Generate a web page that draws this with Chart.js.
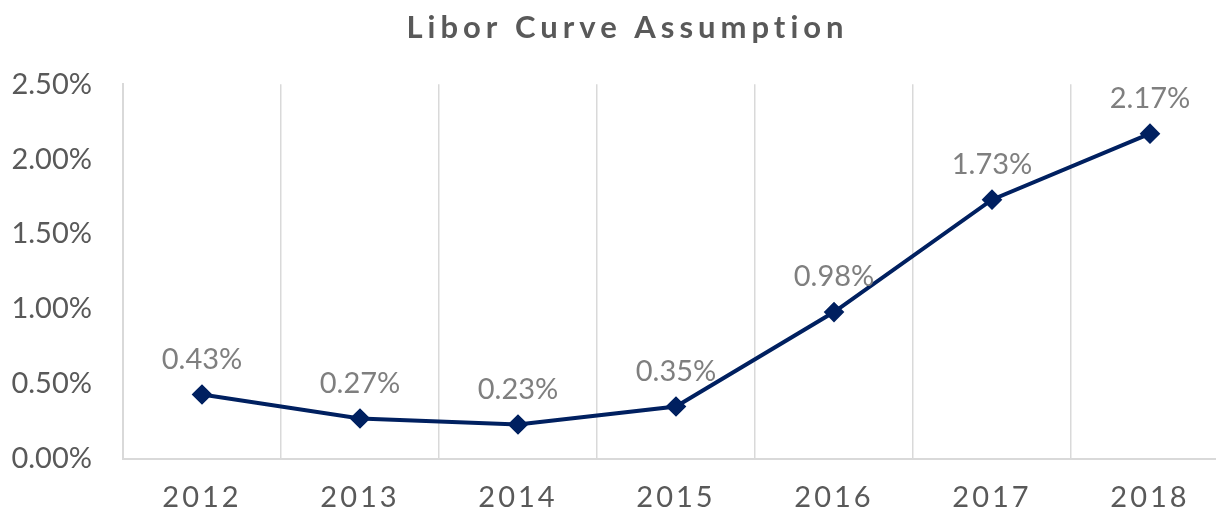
<html>
<head>
<script src="https://cdn.jsdelivr.net/npm/chart.js@4"></script>
<style>
body{margin:0;overflow:hidden;background:#fff;}
#wrap{width:1254px;height:512px;}
</style>
</head>
<body>
<div id="wrap"><canvas id="libor" width="1254" height="512"></canvas></div>
<script>
// data
var years = ['2012','2013','2014','2015','2016','2017','2018'];
var libor = [0.43, 0.27, 0.23, 0.35, 0.98, 1.73, 2.17];
var yTicks = [0, 0.5, 1.0, 1.5, 2.0, 2.5];

var FONT = 'Lato, "Open Sans", sans-serif';

// value labels above the markers
var pointLabels = {
  id: 'pointLabels',
  afterDatasetsDraw: function(chart){
    var ctx = chart.ctx;
    var meta = chart.getDatasetMeta(0);
    ctx.save();
    ctx.font = '29px ' + FONT;
    ctx.fillStyle = '#7f7f7f';
    ctx.textAlign = 'center';
    ctx.textBaseline = 'middle';
    meta.data.forEach(function(pt, i){
      ctx.fillText(libor[i].toFixed(2) + '%', pt.x, pt.y - 35);
    });
    ctx.restore();
  }
};

// letter spacing for title and year labels
var spacing = {
  id: 'spacing',
  afterLayout: function(chart){
    var xs = chart.scales.x;
    if (!xs._patched) {
      var orig = xs.drawLabels;
      xs.drawLabels = function(a){
        chart.ctx.letterSpacing = '3px';
        orig.call(this, a);
        chart.ctx.letterSpacing = '0px';
      };
      xs._patched = true;
    }
    var tb = chart.titleBlock;
    if (tb && !tb._patched) {
      var od = tb.draw;
      tb.draw = function(){
        var c = chart.ctx;
        c.save();
        c.translate(13, 0); // title sits centred on the full picture, not the padded box
        c.letterSpacing = '5px';
        od.call(this);
        c.letterSpacing = '0px';
        c.restore();
      };
      tb._patched = true;
    }
  }
};

var ctx = document.getElementById('libor').getContext('2d');
var chart = new Chart(ctx, {
  type: 'line',
  data: {
    labels: years,
    datasets: [{
      label: 'Libor',
      data: libor,
      borderColor: '#002060',
      backgroundColor: '#002060',
      borderWidth: 4,
      pointStyle: 'rectRot',
      pointRadius: 7.5,
      pointHoverRadius: 7.5,
      tension: 0
    }]
  },
  options: {
    responsive: false,
    animation: false,
    layout: {padding: {left: 0, right: 25, top: 0, bottom: 0}},
    plugins: {
      legend: {display: false},
      tooltip: {enabled: false},
      title: {
        display: true,
        text: 'Libor Curve Assumption',
        color: '#595959',
        font: {family: FONT, size: 31, weight: 'bold'},
        padding: {top: 9, bottom: 38}
      }
    },
    scales: {
      x: {
        offset: true,
        afterFit: function(s){ s.height = 53; },
        grid: {display: true, color: '#d9d9d9', lineWidth: 1.5, offset: true, drawTicks: false},
        border: {display: true, color: '#d9d9d9', width: 2},
        ticks: {color: '#595959', font: {family: FONT, size: 29}, padding: 21}
      },
      y: {
        min: 0,
        max: 2.5,
        afterBuildTicks: function(s){ s.ticks = yTicks.map(function(v){ return {value: v}; }); },
        afterFit: function(s){ s.width = 123; },
        grid: {display: false, drawTicks: false},
        border: {display: true, color: '#d9d9d9', width: 2},
        ticks: {
          color: '#595959',
          font: {family: FONT, size: 29},
          padding: 31,
          callback: function(v){ return v.toFixed(2) + '%'; }
        }
      }
    }
  },
  plugins: [pointLabels, spacing]
});
</script>
</body>
</html>
